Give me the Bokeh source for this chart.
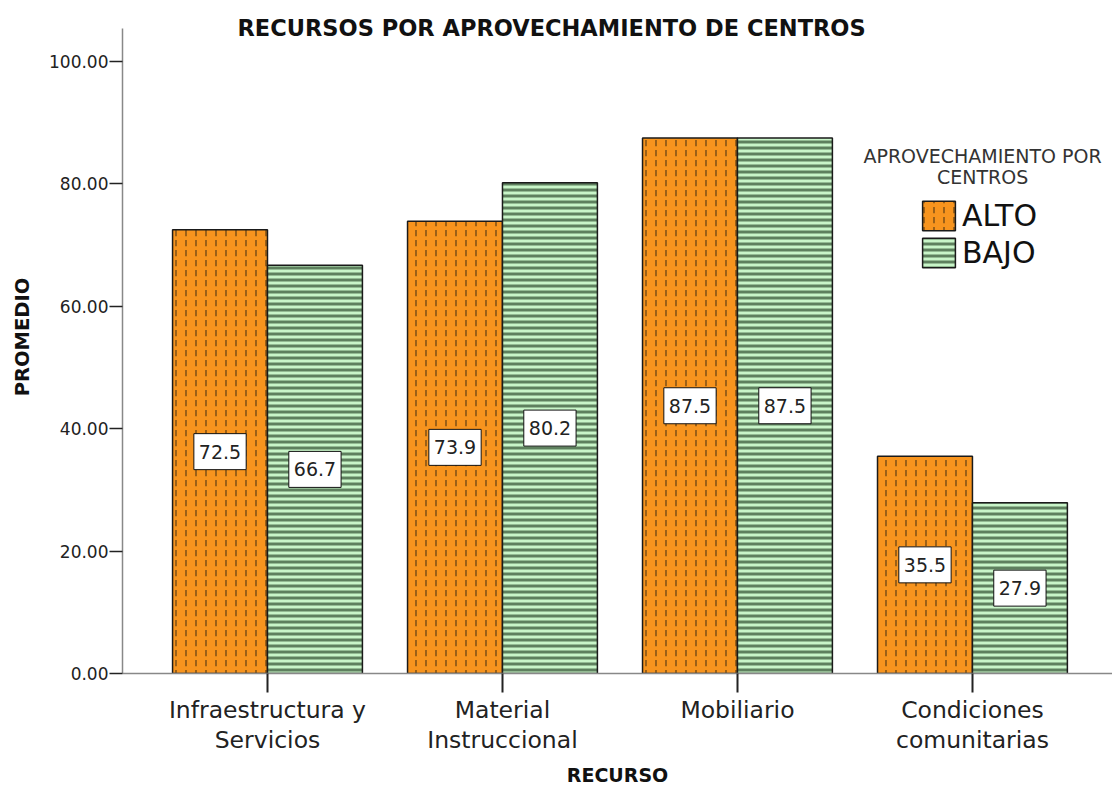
from bokeh.plotting import figure
from bokeh.models import (Range1d, FixedTicker, NumeralTickFormatter, Label,
                          Legend, LegendItem, ColumnDataSource)
from bokeh.embed import file_html
from bokeh.resources import INLINE

# ---- data ----
categories = ["Infraestructura y\nServicios", "Material\nInstruccional", "Mobiliario",
              "Condiciones\ncomunitarias"]
alto = [72.5, 73.9, 87.5, 35.5]
bajo = [66.7, 80.2, 87.5, 27.9]
series_names = ["ALTO", "BAJO"]
y_ticks = [0, 20, 40, 60, 80, 100]
title_text = "RECURSOS POR APROVECHAMIENTO DE CENTROS"
legend_title = ["APROVECHAMIENTO POR", "CENTROS"]
x_title = "RECURSO"
y_title = "PROMEDIO"

FONT = "DejaVu Sans"
BAR_W = 0.404
Y_AXIS_TOP = 105.4
idx = list(range(len(categories)))
xa_pos = [i - BAR_W / 2 for i in idx]
xb_pos = [i + BAR_W / 2 for i in idx]

src = ColumnDataSource(dict(xa=xa_pos, xb=xb_pos, alto=alto, bajo=bajo))

p = figure(width=1112, height=789,
           x_range=Range1d(-0.617, 3.596), y_range=Range1d(0, 109.97),
           output_backend="svg", toolbar_location=None,
           min_border_left=122, min_border_right=0, min_border_top=0, min_border_bottom=116)
p.outline_line_color = None
p.xgrid.visible = False
p.ygrid.visible = False

ra = p.vbar(x="xa", top="alto", width=BAR_W, source=src,
            fill_color="#F7941E", line_color="#1a1a1a", line_width=1.5,
            hatch_pattern=":", hatch_color="#5e3d12", hatch_alpha=0.75,
            hatch_scale=10, hatch_weight=1.6)
rb = p.vbar(x="xb", top="bajo", width=BAR_W, source=src,
            fill_color="#C8F5C8", line_color="#1a1a1a", line_width=1.5,
            hatch_pattern="-", hatch_color="#5E805E", hatch_alpha=1.0,
            hatch_scale=6, hatch_weight=3)

for xs, vals in ((xa_pos, alto), (xb_pos, bajo)):
    for xv, v in zip(xs, vals):
        p.add_layout(Label(x=xv, y=v / 2, text="%.1f" % v,
                           text_align="center", text_baseline="middle",
                           text_font=FONT, text_font_size="19px", text_color="#222222",
                           background_fill_color="white", border_line_color="#111111",
                           border_line_width=1,
                           padding=dict(left=5, right=5, top=11, bottom=11)))

# axes
xa = p.xaxis[0]
xa.ticker = FixedTicker(ticks=idx)
xa.major_label_overrides = {i: c for i, c in zip(idx, categories)}
xa.major_label_text_font = FONT
xa.major_label_text_font_size = "23.5px"
xa.major_label_text_line_height = 1.1
xa.major_label_text_color = "#222222"
xa.major_tick_in = 0
xa.major_tick_out = 19
xa.major_tick_line_width = 2
xa.major_tick_line_color = "#222222"
xa.minor_tick_line_color = None
xa.axis_line_color = "#888888"
xa.axis_line_width = 1.5
xa.major_label_standoff = 3
xa.axis_label = x_title
xa.axis_label_text_font = FONT
xa.axis_label_text_font_style = "bold"
xa.axis_label_text_font_size = "19px"
xa.axis_label_text_color = "#111111"
xa.axis_label_standoff = 7

ya = p.yaxis[0]
ya.ticker = FixedTicker(ticks=y_ticks)
ya.formatter = NumeralTickFormatter(format="0.00")
ya.bounds = (0, Y_AXIS_TOP)
ya.major_label_text_font = FONT
ya.major_label_text_font_size = "17px"
ya.major_label_text_color = "#222222"
ya.major_tick_in = 0
ya.major_tick_out = 13
ya.major_tick_line_width = 1.5
ya.major_tick_line_color = "#222222"
ya.minor_tick_line_color = None
ya.axis_line_color = "#888888"
ya.axis_line_width = 1.5
ya.major_label_standoff = 1
ya.axis_label = y_title
ya.axis_label_text_font = FONT
ya.axis_label_text_font_style = "bold"
ya.axis_label_text_font_size = "19.5px"
ya.axis_label_text_color = "#111111"
ya.axis_label_standoff = 12

# title
p.add_layout(Label(x=1.209, y=Y_AXIS_TOP, text=title_text, text_align="center",
                   text_baseline="middle", text_font=FONT, text_font_style="bold",
                   text_font_size="22.5px", text_color="#111111"))

# legend
p.add_layout(Label(x=3.043, y=84.48, text=legend_title[0], text_align="center",
                   text_baseline="middle", text_font=FONT, text_font_size="19px",
                   text_color="#333333"))
p.add_layout(Label(x=3.043, y=81.05, text=legend_title[1], text_align="center",
                   text_baseline="middle", text_font=FONT, text_font_size="19px",
                   text_color="#333333"))
legend = Legend(items=[LegendItem(label=series_names[0], renderers=[ra]),
                       LegendItem(label=series_names[1], renderers=[rb])],
                location=(796, 402), orientation="vertical",
                glyph_width=41, glyph_height=37, label_height=37,
                label_text_font=FONT, label_text_font_size="30px",
                label_text_color="#111111", label_standoff=3,
                spacing=0, padding=0, margin=0,
                border_line_color=None, background_fill_alpha=0)
p.add_layout(legend)

open("out.html", "w").write(file_html(p, INLINE))
